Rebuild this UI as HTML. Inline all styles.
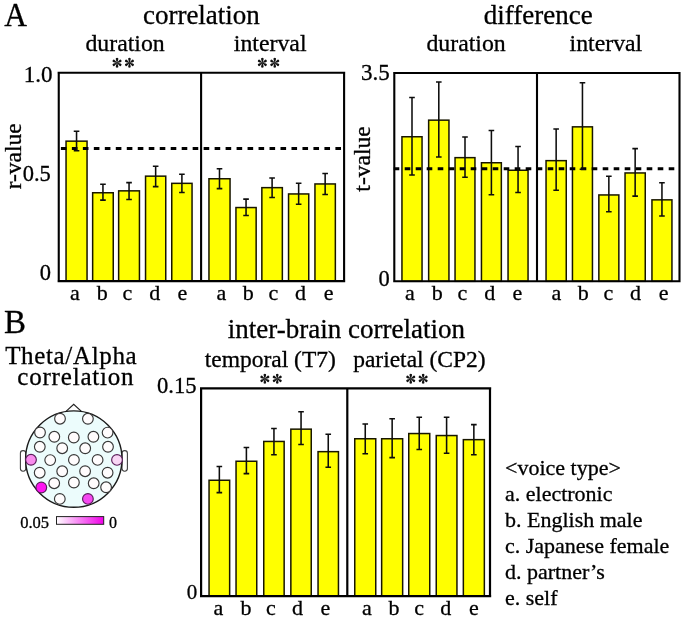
<!DOCTYPE html>
<html><head><meta charset="utf-8"><style>
html,body{margin:0;padding:0;background:#fff;}
body{width:685px;height:620px;overflow:hidden;}
svg{display:block;will-change:transform;}
text{font-family:"Liberation Serif",serif;fill:#000;stroke:#000;stroke-width:0.3px;}
</style></head><body>
<svg width="685" height="620" viewBox="0 0 685 620">
<rect width="685" height="620" fill="#fff"/>
<rect x="66.05" y="141.15" width="21.00" height="139.85" fill="#ffff00" stroke="#181600" stroke-width="1.5"/>
<rect x="92.65" y="192.75" width="20.60" height="88.25" fill="#ffff00" stroke="#181600" stroke-width="1.5"/>
<rect x="118.65" y="190.85" width="20.80" height="90.15" fill="#ffff00" stroke="#181600" stroke-width="1.5"/>
<rect x="145.55" y="176.15" width="20.20" height="104.85" fill="#ffff00" stroke="#181600" stroke-width="1.5"/>
<rect x="171.75" y="183.35" width="20.30" height="97.65" fill="#ffff00" stroke="#181600" stroke-width="1.5"/>
<rect x="208.95" y="178.75" width="21.10" height="102.25" fill="#ffff00" stroke="#181600" stroke-width="1.5"/>
<rect x="235.95" y="207.55" width="20.20" height="73.45" fill="#ffff00" stroke="#181600" stroke-width="1.5"/>
<rect x="261.85" y="187.65" width="20.50" height="93.35" fill="#ffff00" stroke="#181600" stroke-width="1.5"/>
<rect x="288.55" y="193.95" width="20.20" height="87.05" fill="#ffff00" stroke="#181600" stroke-width="1.5"/>
<rect x="314.95" y="183.95" width="20.40" height="97.05" fill="#ffff00" stroke="#181600" stroke-width="1.5"/>
<path d="M60.9 148.6H342" stroke="#000" stroke-width="3" stroke-dasharray="5.6 5.38" fill="none"/>
<path d="M76.55 130.60V151.40M73.75 131.20h5.6M73.75 150.80h5.6" stroke="#0d0d0d" stroke-width="1.55" fill="none"/>
<path d="M102.95 183.70V200.70M100.15 184.30h5.6M100.15 200.10h5.6" stroke="#0d0d0d" stroke-width="1.55" fill="none"/>
<path d="M129.05 182.00V200.00M126.25 182.60h5.6M126.25 199.40h5.6" stroke="#0d0d0d" stroke-width="1.55" fill="none"/>
<path d="M155.65 165.70V187.20M152.85 166.30h5.6M152.85 186.60h5.6" stroke="#0d0d0d" stroke-width="1.55" fill="none"/>
<path d="M181.90 173.60V193.00M179.10 174.20h5.6M179.10 192.40h5.6" stroke="#0d0d0d" stroke-width="1.55" fill="none"/>
<path d="M219.50 168.10V189.20M216.70 168.70h5.6M216.70 188.60h5.6" stroke="#0d0d0d" stroke-width="1.55" fill="none"/>
<path d="M246.05 198.50V216.00M243.25 199.10h5.6M243.25 215.40h5.6" stroke="#0d0d0d" stroke-width="1.55" fill="none"/>
<path d="M272.10 177.40V198.00M269.30 178.00h5.6M269.30 197.40h5.6" stroke="#0d0d0d" stroke-width="1.55" fill="none"/>
<path d="M298.65 182.60V204.80M295.85 183.20h5.6M295.85 204.20h5.6" stroke="#0d0d0d" stroke-width="1.55" fill="none"/>
<path d="M325.15 172.80V195.00M322.35 173.40h5.6M322.35 194.40h5.6" stroke="#0d0d0d" stroke-width="1.55" fill="none"/>
<path d="M58.75 71.8V282.1M57.6 72.8H345.2M57.6 281.1H345.2M344.1 71.8V282.1M201.1 72.8V281.1" stroke="#000" stroke-width="2.1" fill="none"/>
<rect x="401.95" y="136.75" width="20.10" height="144.55" fill="#ffff00" stroke="#181600" stroke-width="1.5"/>
<rect x="428.65" y="120.15" width="20.30" height="161.15" fill="#ffff00" stroke="#181600" stroke-width="1.5"/>
<rect x="455.05" y="157.65" width="19.90" height="123.65" fill="#ffff00" stroke="#181600" stroke-width="1.5"/>
<rect x="481.45" y="162.75" width="19.90" height="118.55" fill="#ffff00" stroke="#181600" stroke-width="1.5"/>
<rect x="508.05" y="170.25" width="20.00" height="111.05" fill="#ffff00" stroke="#181600" stroke-width="1.5"/>
<rect x="546.05" y="160.65" width="20.20" height="120.65" fill="#ffff00" stroke="#181600" stroke-width="1.5"/>
<rect x="572.45" y="126.85" width="20.00" height="154.45" fill="#ffff00" stroke="#181600" stroke-width="1.5"/>
<rect x="598.85" y="194.95" width="20.00" height="86.35" fill="#ffff00" stroke="#181600" stroke-width="1.5"/>
<rect x="625.05" y="172.95" width="20.20" height="108.35" fill="#ffff00" stroke="#181600" stroke-width="1.5"/>
<rect x="651.95" y="199.85" width="20.00" height="81.45" fill="#ffff00" stroke="#181600" stroke-width="1.5"/>
<path d="M393.7 168.8H678" stroke="#000" stroke-width="3" stroke-dasharray="5.6 5.4" fill="none"/>
<path d="M412.00 96.80V175.50M409.20 97.40h5.6M409.20 174.90h5.6" stroke="#0d0d0d" stroke-width="1.55" fill="none"/>
<path d="M438.80 81.40V157.50M436.00 82.00h5.6M436.00 156.90h5.6" stroke="#0d0d0d" stroke-width="1.55" fill="none"/>
<path d="M465.00 136.40V177.80M462.20 137.00h5.6M462.20 177.20h5.6" stroke="#0d0d0d" stroke-width="1.55" fill="none"/>
<path d="M491.40 129.90V195.40M488.60 130.50h5.6M488.60 194.80h5.6" stroke="#0d0d0d" stroke-width="1.55" fill="none"/>
<path d="M518.05 145.80V193.00M515.25 146.40h5.6M515.25 192.40h5.6" stroke="#0d0d0d" stroke-width="1.55" fill="none"/>
<path d="M556.15 128.40V190.80M553.35 129.00h5.6M553.35 190.20h5.6" stroke="#0d0d0d" stroke-width="1.55" fill="none"/>
<path d="M582.45 82.10V169.80M579.65 82.70h5.6M579.65 169.20h5.6" stroke="#0d0d0d" stroke-width="1.55" fill="none"/>
<path d="M608.85 175.60V212.30M606.05 176.20h5.6M606.05 211.70h5.6" stroke="#0d0d0d" stroke-width="1.55" fill="none"/>
<path d="M635.15 148.00V196.70M632.35 148.60h5.6M632.35 196.10h5.6" stroke="#0d0d0d" stroke-width="1.55" fill="none"/>
<path d="M661.95 182.20V216.50M659.15 182.80h5.6M659.15 215.90h5.6" stroke="#0d0d0d" stroke-width="1.55" fill="none"/>
<path d="M394.3 72V282.3M393.2 73H680.5M393.2 281.3H680.5M679.5 72V282.3M537 73V281.3" stroke="#000" stroke-width="2.1" fill="none"/>
<rect x="209.05" y="480.25" width="20.60" height="115.95" fill="#ffff00" stroke="#181600" stroke-width="1.5"/>
<rect x="236.05" y="461.25" width="20.70" height="134.95" fill="#ffff00" stroke="#181600" stroke-width="1.5"/>
<rect x="263.75" y="441.45" width="20.40" height="154.75" fill="#ffff00" stroke="#181600" stroke-width="1.5"/>
<rect x="290.85" y="429.15" width="20.40" height="167.05" fill="#ffff00" stroke="#181600" stroke-width="1.5"/>
<rect x="318.05" y="451.65" width="20.40" height="144.55" fill="#ffff00" stroke="#181600" stroke-width="1.5"/>
<rect x="354.75" y="438.75" width="21.00" height="157.45" fill="#ffff00" stroke="#181600" stroke-width="1.5"/>
<rect x="381.65" y="438.75" width="21.00" height="157.45" fill="#ffff00" stroke="#181600" stroke-width="1.5"/>
<rect x="408.75" y="433.55" width="21.00" height="162.65" fill="#ffff00" stroke="#181600" stroke-width="1.5"/>
<rect x="436.25" y="435.55" width="20.70" height="160.65" fill="#ffff00" stroke="#181600" stroke-width="1.5"/>
<rect x="463.35" y="439.65" width="21.00" height="156.55" fill="#ffff00" stroke="#181600" stroke-width="1.5"/>
<path d="M219.35 465.80V493.20M216.55 466.40h5.6M216.55 492.60h5.6" stroke="#0d0d0d" stroke-width="1.55" fill="none"/>
<path d="M246.40 446.80V474.20M243.60 447.40h5.6M243.60 473.60h5.6" stroke="#0d0d0d" stroke-width="1.55" fill="none"/>
<path d="M273.95 427.80V455.30M271.15 428.40h5.6M271.15 454.70h5.6" stroke="#0d0d0d" stroke-width="1.55" fill="none"/>
<path d="M301.05 411.20V445.10M298.25 411.80h5.6M298.25 444.50h5.6" stroke="#0d0d0d" stroke-width="1.55" fill="none"/>
<path d="M328.25 433.60V467.80M325.45 434.20h5.6M325.45 467.20h5.6" stroke="#0d0d0d" stroke-width="1.55" fill="none"/>
<path d="M365.25 423.40V454.40M362.45 424.00h5.6M362.45 453.80h5.6" stroke="#0d0d0d" stroke-width="1.55" fill="none"/>
<path d="M392.15 418.20V458.20M389.35 418.80h5.6M389.35 457.60h5.6" stroke="#0d0d0d" stroke-width="1.55" fill="none"/>
<path d="M419.25 416.70V450.00M416.45 417.30h5.6M416.45 449.40h5.6" stroke="#0d0d0d" stroke-width="1.55" fill="none"/>
<path d="M446.60 416.70V453.80M443.80 417.30h5.6M443.80 453.20h5.6" stroke="#0d0d0d" stroke-width="1.55" fill="none"/>
<path d="M473.85 424.00V455.30M471.05 424.60h5.6M471.05 454.70h5.6" stroke="#0d0d0d" stroke-width="1.55" fill="none"/>
<path d="M201.1 387.2V597.3M200 388.4H491.2M200 596.2H491.2M490 387.2V597.3M347.3 388.4V596.2" stroke="#000" stroke-width="2.2" fill="none"/>
<path d="M66 411.4L73.7 404.2L81.4 411.4" fill="#fff" stroke="#222" stroke-width="1.2"/>
<rect x="20.4" y="450.6" width="5.4" height="20.6" rx="2.6" fill="#fff" stroke="#404040" stroke-width="1.1"/>
<rect x="122" y="450.6" width="5.4" height="20.6" rx="2.6" fill="#fff" stroke="#404040" stroke-width="1.1"/>
<circle cx="73.8" cy="459.1" r="48.2" fill="#ecfcfc" stroke="#1a1a1a" stroke-width="1.4"/>
<circle cx="60" cy="418.7" r="5.35" fill="#fffcfd" stroke="#383838" stroke-width="1.15"/>
<circle cx="87.9" cy="418.8" r="5.35" fill="#fffcfd" stroke="#383838" stroke-width="1.15"/>
<circle cx="40" cy="432.5" r="5.35" fill="#fffcfd" stroke="#383838" stroke-width="1.15"/>
<circle cx="54.3" cy="436.8" r="5.35" fill="#fffcfd" stroke="#383838" stroke-width="1.15"/>
<circle cx="73.8" cy="437.5" r="5.35" fill="#fffcfd" stroke="#383838" stroke-width="1.15"/>
<circle cx="93.4" cy="436.8" r="5.35" fill="#fffcfd" stroke="#383838" stroke-width="1.15"/>
<circle cx="107.6" cy="432.6" r="5.35" fill="#fffcfd" stroke="#383838" stroke-width="1.15"/>
<circle cx="39.8" cy="446.8" r="5.35" fill="#fffcfd" stroke="#383838" stroke-width="1.15"/>
<circle cx="62.2" cy="448.2" r="5.35" fill="#fffcfd" stroke="#383838" stroke-width="1.15"/>
<circle cx="85.2" cy="448.3" r="5.35" fill="#fffcfd" stroke="#383838" stroke-width="1.15"/>
<circle cx="108" cy="446.8" r="5.35" fill="#fffcfd" stroke="#383838" stroke-width="1.15"/>
<circle cx="31" cy="459.8" r="5.35" fill="#f98cee" stroke="#5a1e5a" stroke-width="1.15"/>
<circle cx="50.2" cy="460.1" r="5.35" fill="#fffcfd" stroke="#383838" stroke-width="1.15"/>
<circle cx="73.9" cy="459.9" r="5.35" fill="#fffcfd" stroke="#383838" stroke-width="1.15"/>
<circle cx="97.6" cy="459.9" r="5.35" fill="#fffcfd" stroke="#383838" stroke-width="1.15"/>
<circle cx="117" cy="459.9" r="5.35" fill="#f9d6f5" stroke="#5a1e5a" stroke-width="1.15"/>
<circle cx="39.7" cy="472.7" r="5.35" fill="#fffcfd" stroke="#383838" stroke-width="1.15"/>
<circle cx="62.2" cy="471.3" r="5.35" fill="#fffcfd" stroke="#383838" stroke-width="1.15"/>
<circle cx="85.1" cy="471.2" r="5.35" fill="#fffcfd" stroke="#383838" stroke-width="1.15"/>
<circle cx="107.6" cy="472.7" r="5.35" fill="#fffcfd" stroke="#383838" stroke-width="1.15"/>
<circle cx="41.3" cy="487.5" r="5.35" fill="#ff14f2" stroke="#5a1e5a" stroke-width="1.15"/>
<circle cx="54.2" cy="483.2" r="5.35" fill="#fffcfd" stroke="#383838" stroke-width="1.15"/>
<circle cx="73.9" cy="482.5" r="5.35" fill="#fffcfd" stroke="#383838" stroke-width="1.15"/>
<circle cx="93.7" cy="483.3" r="5.35" fill="#fffcfd" stroke="#383838" stroke-width="1.15"/>
<circle cx="106.1" cy="487.3" r="5.35" fill="#fffcfd" stroke="#383838" stroke-width="1.15"/>
<circle cx="59.8" cy="498.9" r="5.35" fill="#fffcfd" stroke="#383838" stroke-width="1.15"/>
<circle cx="87.9" cy="498.9" r="5.35" fill="#f548f0" stroke="#5a1e5a" stroke-width="1.15"/>
<defs><linearGradient id="cb" x1="0" x2="1" y1="0" y2="0"><stop offset="0" stop-color="#ffffff"/><stop offset="1" stop-color="#f000e8"/></linearGradient></defs>
<rect x="56.5" y="516.6" width="47.2" height="7.7" fill="url(#cb)" stroke="#222" stroke-width="1"/>
<g transform="translate(117.05 62.85)" fill="#111"><path d="M-0.2 0L-1.2 -3.25A1.28 1.28 0 1 1 1.2 -3.25L0.2 0Z" transform="rotate(0)"/><path d="M-0.2 0L-1.2 -3.25A1.28 1.28 0 1 1 1.2 -3.25L0.2 0Z" transform="rotate(60)"/><path d="M-0.2 0L-1.2 -3.25A1.28 1.28 0 1 1 1.2 -3.25L0.2 0Z" transform="rotate(120)"/><path d="M-0.2 0L-1.2 -3.25A1.28 1.28 0 1 1 1.2 -3.25L0.2 0Z" transform="rotate(180)"/><path d="M-0.2 0L-1.2 -3.25A1.28 1.28 0 1 1 1.2 -3.25L0.2 0Z" transform="rotate(240)"/><path d="M-0.2 0L-1.2 -3.25A1.28 1.28 0 1 1 1.2 -3.25L0.2 0Z" transform="rotate(300)"/></g>
<g transform="translate(129.45 62.85)" fill="#111"><path d="M-0.2 0L-1.2 -3.25A1.28 1.28 0 1 1 1.2 -3.25L0.2 0Z" transform="rotate(0)"/><path d="M-0.2 0L-1.2 -3.25A1.28 1.28 0 1 1 1.2 -3.25L0.2 0Z" transform="rotate(60)"/><path d="M-0.2 0L-1.2 -3.25A1.28 1.28 0 1 1 1.2 -3.25L0.2 0Z" transform="rotate(120)"/><path d="M-0.2 0L-1.2 -3.25A1.28 1.28 0 1 1 1.2 -3.25L0.2 0Z" transform="rotate(180)"/><path d="M-0.2 0L-1.2 -3.25A1.28 1.28 0 1 1 1.2 -3.25L0.2 0Z" transform="rotate(240)"/><path d="M-0.2 0L-1.2 -3.25A1.28 1.28 0 1 1 1.2 -3.25L0.2 0Z" transform="rotate(300)"/></g>
<g transform="translate(262.35 62.85)" fill="#111"><path d="M-0.2 0L-1.2 -3.25A1.28 1.28 0 1 1 1.2 -3.25L0.2 0Z" transform="rotate(0)"/><path d="M-0.2 0L-1.2 -3.25A1.28 1.28 0 1 1 1.2 -3.25L0.2 0Z" transform="rotate(60)"/><path d="M-0.2 0L-1.2 -3.25A1.28 1.28 0 1 1 1.2 -3.25L0.2 0Z" transform="rotate(120)"/><path d="M-0.2 0L-1.2 -3.25A1.28 1.28 0 1 1 1.2 -3.25L0.2 0Z" transform="rotate(180)"/><path d="M-0.2 0L-1.2 -3.25A1.28 1.28 0 1 1 1.2 -3.25L0.2 0Z" transform="rotate(240)"/><path d="M-0.2 0L-1.2 -3.25A1.28 1.28 0 1 1 1.2 -3.25L0.2 0Z" transform="rotate(300)"/></g>
<g transform="translate(274.75 62.85)" fill="#111"><path d="M-0.2 0L-1.2 -3.25A1.28 1.28 0 1 1 1.2 -3.25L0.2 0Z" transform="rotate(0)"/><path d="M-0.2 0L-1.2 -3.25A1.28 1.28 0 1 1 1.2 -3.25L0.2 0Z" transform="rotate(60)"/><path d="M-0.2 0L-1.2 -3.25A1.28 1.28 0 1 1 1.2 -3.25L0.2 0Z" transform="rotate(120)"/><path d="M-0.2 0L-1.2 -3.25A1.28 1.28 0 1 1 1.2 -3.25L0.2 0Z" transform="rotate(180)"/><path d="M-0.2 0L-1.2 -3.25A1.28 1.28 0 1 1 1.2 -3.25L0.2 0Z" transform="rotate(240)"/><path d="M-0.2 0L-1.2 -3.25A1.28 1.28 0 1 1 1.2 -3.25L0.2 0Z" transform="rotate(300)"/></g>
<g transform="translate(264.85 378.85)" fill="#111"><path d="M-0.2 0L-1.2 -3.25A1.28 1.28 0 1 1 1.2 -3.25L0.2 0Z" transform="rotate(0)"/><path d="M-0.2 0L-1.2 -3.25A1.28 1.28 0 1 1 1.2 -3.25L0.2 0Z" transform="rotate(60)"/><path d="M-0.2 0L-1.2 -3.25A1.28 1.28 0 1 1 1.2 -3.25L0.2 0Z" transform="rotate(120)"/><path d="M-0.2 0L-1.2 -3.25A1.28 1.28 0 1 1 1.2 -3.25L0.2 0Z" transform="rotate(180)"/><path d="M-0.2 0L-1.2 -3.25A1.28 1.28 0 1 1 1.2 -3.25L0.2 0Z" transform="rotate(240)"/><path d="M-0.2 0L-1.2 -3.25A1.28 1.28 0 1 1 1.2 -3.25L0.2 0Z" transform="rotate(300)"/></g>
<g transform="translate(277.25 378.85)" fill="#111"><path d="M-0.2 0L-1.2 -3.25A1.28 1.28 0 1 1 1.2 -3.25L0.2 0Z" transform="rotate(0)"/><path d="M-0.2 0L-1.2 -3.25A1.28 1.28 0 1 1 1.2 -3.25L0.2 0Z" transform="rotate(60)"/><path d="M-0.2 0L-1.2 -3.25A1.28 1.28 0 1 1 1.2 -3.25L0.2 0Z" transform="rotate(120)"/><path d="M-0.2 0L-1.2 -3.25A1.28 1.28 0 1 1 1.2 -3.25L0.2 0Z" transform="rotate(180)"/><path d="M-0.2 0L-1.2 -3.25A1.28 1.28 0 1 1 1.2 -3.25L0.2 0Z" transform="rotate(240)"/><path d="M-0.2 0L-1.2 -3.25A1.28 1.28 0 1 1 1.2 -3.25L0.2 0Z" transform="rotate(300)"/></g>
<g transform="translate(410.75 378.85)" fill="#111"><path d="M-0.2 0L-1.2 -3.25A1.28 1.28 0 1 1 1.2 -3.25L0.2 0Z" transform="rotate(0)"/><path d="M-0.2 0L-1.2 -3.25A1.28 1.28 0 1 1 1.2 -3.25L0.2 0Z" transform="rotate(60)"/><path d="M-0.2 0L-1.2 -3.25A1.28 1.28 0 1 1 1.2 -3.25L0.2 0Z" transform="rotate(120)"/><path d="M-0.2 0L-1.2 -3.25A1.28 1.28 0 1 1 1.2 -3.25L0.2 0Z" transform="rotate(180)"/><path d="M-0.2 0L-1.2 -3.25A1.28 1.28 0 1 1 1.2 -3.25L0.2 0Z" transform="rotate(240)"/><path d="M-0.2 0L-1.2 -3.25A1.28 1.28 0 1 1 1.2 -3.25L0.2 0Z" transform="rotate(300)"/></g>
<g transform="translate(423.15 378.85)" fill="#111"><path d="M-0.2 0L-1.2 -3.25A1.28 1.28 0 1 1 1.2 -3.25L0.2 0Z" transform="rotate(0)"/><path d="M-0.2 0L-1.2 -3.25A1.28 1.28 0 1 1 1.2 -3.25L0.2 0Z" transform="rotate(60)"/><path d="M-0.2 0L-1.2 -3.25A1.28 1.28 0 1 1 1.2 -3.25L0.2 0Z" transform="rotate(120)"/><path d="M-0.2 0L-1.2 -3.25A1.28 1.28 0 1 1 1.2 -3.25L0.2 0Z" transform="rotate(180)"/><path d="M-0.2 0L-1.2 -3.25A1.28 1.28 0 1 1 1.2 -3.25L0.2 0Z" transform="rotate(240)"/><path d="M-0.2 0L-1.2 -3.25A1.28 1.28 0 1 1 1.2 -3.25L0.2 0Z" transform="rotate(300)"/></g>
<text transform="translate(4.3,26) scale(0.955,1)" font-size="33">A</text>
<text x="201.4" y="24.2" font-size="27" text-anchor="middle" >correlation</text>
<text x="125.1" y="51" font-size="23.8" text-anchor="middle" >duration</text>
<text x="270.2" y="51.3" font-size="23.8" text-anchor="middle" >interval</text>
<text x="52.5" y="82.4" font-size="23" text-anchor="end" >1.0</text>
<text x="50.8" y="180.5" font-size="22.5" text-anchor="end" >0.5</text>
<text x="51" y="279.8" font-size="22.5" text-anchor="end" >0</text>
<text transform="translate(21,156.3) rotate(-90)" font-size="23.5" text-anchor="middle">r-value</text>
<text x="75.0" y="299.8" font-size="22" text-anchor="middle" >a</text>
<text x="102.2" y="299.8" font-size="22" text-anchor="middle" >b</text>
<text x="127.3" y="299.8" font-size="22" text-anchor="middle" >c</text>
<text x="154.8" y="299.8" font-size="22" text-anchor="middle" >d</text>
<text x="182.4" y="299.8" font-size="22" text-anchor="middle" >e</text>
<text x="221.3" y="299.8" font-size="22" text-anchor="middle" >a</text>
<text x="248.2" y="299.8" font-size="22" text-anchor="middle" >b</text>
<text x="273.4" y="299.8" font-size="22" text-anchor="middle" >c</text>
<text x="300.6" y="299.8" font-size="22" text-anchor="middle" >d</text>
<text x="328.6" y="299.8" font-size="22" text-anchor="middle" >e</text>
<text x="538.2" y="24.2" font-size="27" text-anchor="middle" >difference</text>
<text x="466.1" y="51.4" font-size="23.8" text-anchor="middle" >duration</text>
<text x="605.9" y="51.2" font-size="23.8" text-anchor="middle" >interval</text>
<text x="389.8" y="79.8" font-size="23" text-anchor="end" >3.5</text>
<text x="389.8" y="285.5" font-size="22.5" text-anchor="end" >0</text>
<text transform="translate(370.3,159) rotate(-90)" font-size="23.5" text-anchor="middle">t-value</text>
<text x="410.0" y="299.8" font-size="22" text-anchor="middle" >a</text>
<text x="437.2" y="299.8" font-size="22" text-anchor="middle" >b</text>
<text x="462.3" y="299.8" font-size="22" text-anchor="middle" >c</text>
<text x="489.8" y="299.8" font-size="22" text-anchor="middle" >d</text>
<text x="517.4" y="299.8" font-size="22" text-anchor="middle" >e</text>
<text x="556.3" y="299.8" font-size="22" text-anchor="middle" >a</text>
<text x="583.2" y="299.8" font-size="22" text-anchor="middle" >b</text>
<text x="608.4" y="299.8" font-size="22" text-anchor="middle" >c</text>
<text x="635.6" y="299.8" font-size="22" text-anchor="middle" >d</text>
<text x="663.6" y="299.8" font-size="22" text-anchor="middle" >e</text>
<text x="4" y="332.9" font-size="33" text-anchor="start" >B</text>
<text x="5.2" y="363.6" font-size="25" text-anchor="start" letter-spacing="0.65">Theta/Alpha</text>
<text x="17.3" y="385.3" font-size="25" text-anchor="start" letter-spacing="0.8">correlatıon</text>
<text x="346.4" y="338.1" font-size="27" text-anchor="middle" >inter-brain correlation</text>
<text x="270.3" y="367.4" font-size="23.5" text-anchor="middle" >temporal (T7)</text>
<text x="419.4" y="367.4" font-size="23.5" text-anchor="middle" >parietal (CP2)</text>
<text x="196.6" y="393.3" font-size="22.6" text-anchor="end" >0.15</text>
<text x="197.3" y="599" font-size="21" text-anchor="end" >0</text>
<text x="218.4" y="615.3" font-size="22" text-anchor="middle" >a</text>
<text x="246.0" y="615.3" font-size="22" text-anchor="middle" >b</text>
<text x="271.0" y="615.3" font-size="22" text-anchor="middle" >c</text>
<text x="297.6" y="615.3" font-size="22" text-anchor="middle" >d</text>
<text x="325.4" y="615.3" font-size="22" text-anchor="middle" >e</text>
<text x="366.9" y="615.3" font-size="22" text-anchor="middle" >a</text>
<text x="394.0" y="615.3" font-size="22" text-anchor="middle" >b</text>
<text x="419.1" y="615.3" font-size="22" text-anchor="middle" >c</text>
<text x="445.8" y="615.3" font-size="22" text-anchor="middle" >d</text>
<text x="473.8" y="615.3" font-size="22" text-anchor="middle" >e</text>
<text x="20.2" y="527.9" font-size="16.5" text-anchor="start" >0.05</text>
<text x="109" y="527.6" font-size="16" text-anchor="start" >0</text>
<text x="505" y="474.7" font-size="22" text-anchor="start" >&lt;voice type&gt;</text>
<text x="505" y="500.6" font-size="22" text-anchor="start" >a. electronic</text>
<text x="505" y="526.8" font-size="22" text-anchor="start" >b. English male</text>
<text x="505" y="552.9" font-size="22" text-anchor="start" >c. Japanese female</text>
<text x="505" y="579.3" font-size="22" text-anchor="start" >d. partner’s</text>
<text x="505" y="605.0999999999999" font-size="22" text-anchor="start" >e. self</text>
</svg>
</body></html>
